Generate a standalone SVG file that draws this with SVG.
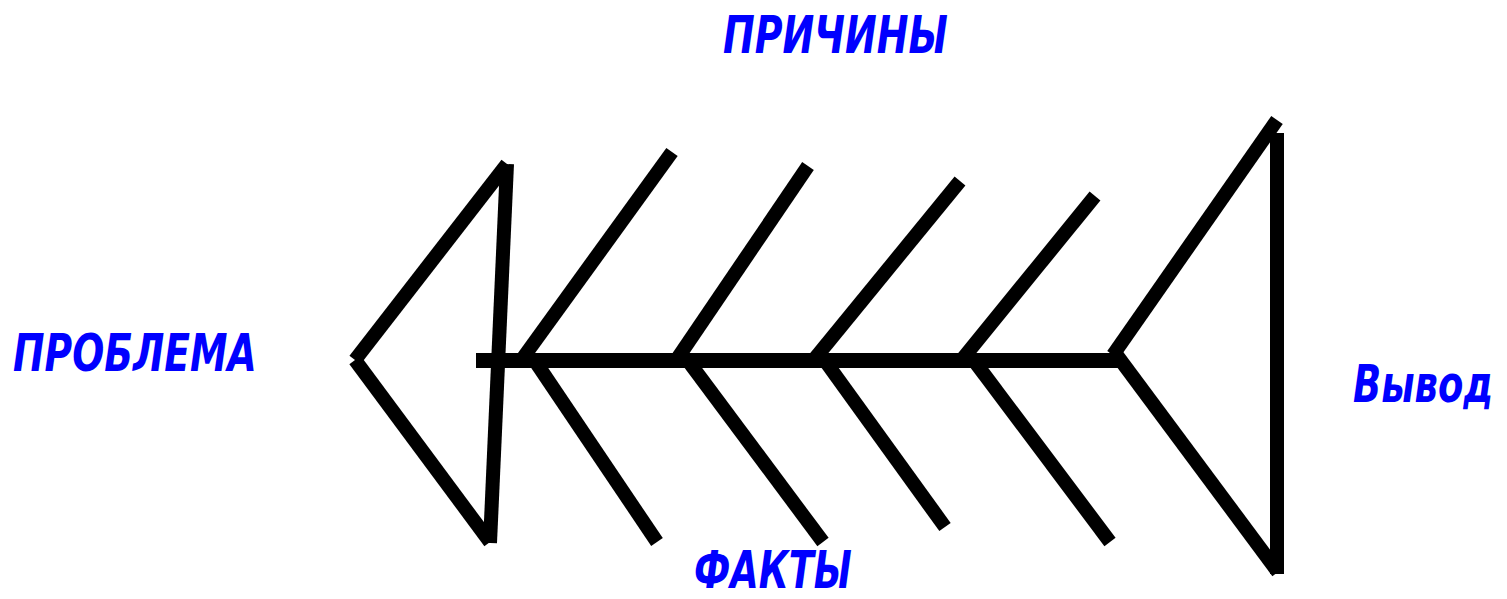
<svg xmlns="http://www.w3.org/2000/svg" width="1507" height="599" viewBox="0 0 1507 599">
<style>
.b{stroke:#000;stroke-width:14;fill:none;stroke-linecap:butt;stroke-linejoin:miter}
.s{stroke:#000;stroke-width:15;fill:none}
.t{font-family:"DejaVu Sans","Liberation Sans",sans-serif;font-weight:bold;font-style:italic;font-size:52px;fill:#0000ff}
</style>
<rect width="1507" height="599" fill="#fff"/>
<g id="connectors">
<line class="s" x1="476" y1="360.5" x2="1122" y2="360.5"/>
<line class="b" x1="520" y1="362" x2="672" y2="152"/>
<line class="b" x1="675" y1="362" x2="808" y2="166"/>
<line class="b" x1="812" y1="362" x2="960" y2="181"/>
<line class="b" x1="960" y1="362" x2="1095" y2="196"/>
<line class="b" x1="533" y1="358" x2="657" y2="542"/>
<line class="b" x1="686" y1="358" x2="823" y2="542"/>
<line class="b" x1="823" y1="358" x2="945" y2="527"/>
<line class="b" x1="972" y1="358" x2="1110" y2="542"/>
</g>
<g id="head">
<line class="b" x1="355" y1="360" x2="507" y2="164"/>
<line class="b" x1="355" y1="360" x2="490" y2="542"/>
<line class="b" x1="507" y1="164" x2="490" y2="543"/>
</g>
<g id="tail">
<line class="b" x1="1113" y1="355" x2="1277" y2="120"/>
<line class="b" x1="1113" y1="350" x2="1278" y2="572"/>
<line class="b" x1="1277" y1="133" x2="1277" y2="574"/>
</g>
<g id="label-problema" transform="translate(13,371) scale(0.73,1)"><text class="t" x="0" y="0" textLength="334" lengthAdjust="spacingAndGlyphs">ПРОБЛЕМА</text></g>
<g id="label-prichiny" transform="translate(723,53) scale(0.73,1)"><text class="t" x="0" y="0" textLength="308" lengthAdjust="spacingAndGlyphs">ПРИЧИНЫ</text></g>
<g id="label-fakty" transform="translate(694,588) scale(0.73,1)"><text class="t" x="0" y="0" font-size="47" textLength="216" lengthAdjust="spacingAndGlyphs">ФАКТЫ</text></g>
<g id="label-vyvod" transform="translate(1353,402) scale(0.73,1)"><text class="t" x="0" y="0" textLength="192" lengthAdjust="spacingAndGlyphs">Вывод</text></g>
</svg>
